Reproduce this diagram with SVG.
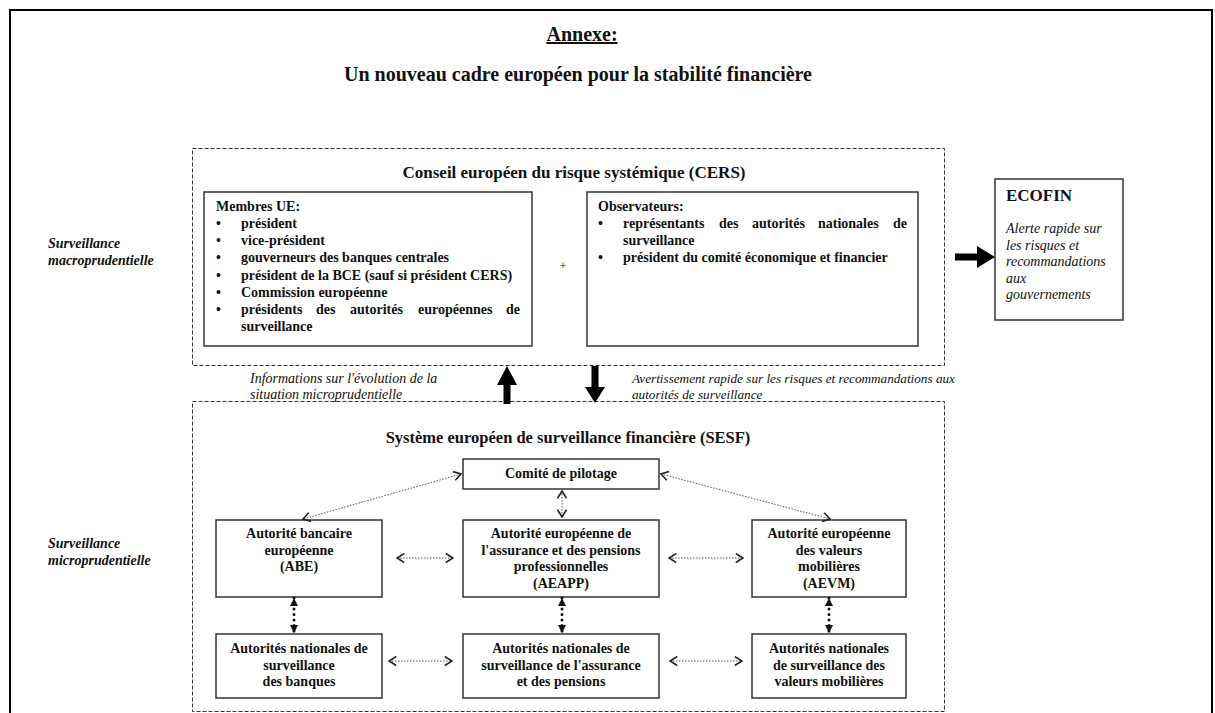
<svg xmlns="http://www.w3.org/2000/svg" width="1215" height="713" viewBox="0 0 1215 713">
<style>
text{font-family:"Liberation Serif","Times New Roman",serif;fill:#111;}
.b{font-weight:bold;font-size:14px;}
.c{text-anchor:middle;}
.it{font-style:italic;font-size:14px;}
.side{font-style:italic;font-weight:bold;font-size:14px;}
.box{fill:#fff;stroke:#333;stroke-width:1.5;}
.dash{fill:none;stroke:#333;stroke-width:1;stroke-dasharray:4,2;}
.dot{fill:none;stroke:#555;stroke-width:1;stroke-dasharray:1.5,1.5;}
.thick{fill:none;stroke:#111;stroke-width:3;stroke-dasharray:0,5.5;stroke-linecap:round;}
.blk{fill:#000;}
</style>
<defs>
<marker id="open" viewBox="0 0 10 12" refX="9" refY="6" markerWidth="9" markerHeight="11" markerUnits="userSpaceOnUse" orient="auto-start-reverse">
<path d="M1,1 L9,6 L1,11" fill="none" stroke="#222" stroke-width="1.8"/>
</marker>
<marker id="tri" viewBox="0 0 10 10" refX="10" refY="5" markerWidth="8" markerHeight="9" markerUnits="userSpaceOnUse" orient="auto-start-reverse">
<path d="M0,0 L10,5 L0,10 Z" fill="#111"/>
</marker>
</defs>
<rect width="1215" height="713" fill="#fff"/>
<g id="frame">
<path d="M10,713 L10,10 L1212,10 L1212,713" fill="none" stroke="#000" stroke-width="2"/>
</g>
<g id="title">
<text x="582" y="41" class="c" style="font-weight:bold;font-size:20px;text-decoration:underline">Annexe:</text>
<text x="578" y="81" class="c" style="font-weight:bold;font-size:20px">Un nouveau cadre européen pour la stabilité financière</text>
</g>
<g id="side-labels">
<text x="48" y="248" class="side">Surveillance</text>
<text x="48" y="265" class="side">macroprudentielle</text>
<text x="48" y="548" class="side">Surveillance</text>
<text x="48" y="565" class="side">microprudentielle</text>
</g>
<g id="cers">
<rect x="192.5" y="148.5" width="752" height="217" class="dash"/>
<text x="574" y="178" class="c" style="font-weight:bold;font-size:17px">Conseil européen du risque systémique (CERS)</text>
</g>
<g id="membres">
<rect x="204" y="192" width="328" height="154" class="box"/>
<text x="216" y="211" class="b">Membres UE:</text>
<text x="216" y="228" class="b">•</text><text x="241" y="228" class="b">président</text>
<text x="216" y="245" class="b">•</text><text x="241" y="245" class="b">vice-président</text>
<text x="216" y="262" class="b">•</text><text x="241" y="262" class="b">gouverneurs des banques centrales</text>
<text x="216" y="280" class="b">•</text><text x="241" y="280" class="b">président de la BCE (sauf si président CERS)</text>
<text x="216" y="297" class="b">•</text><text x="241" y="297" class="b">Commission européenne</text>
<text x="216" y="314" class="b">•</text><text x="241" y="314" class="b">présidents</text><text x="316" y="314" class="b">des</text><text x="350" y="314" class="b">autorités</text><text x="418" y="314" class="b">européennes</text><text x="520" y="314" class="b" style="text-anchor:end">de</text>
<text x="241" y="331" class="b">surveillance</text>
</g>
<text x="563" y="270" class="c" style="font-size:12px">+</text>
<g id="observateurs">
<rect x="587" y="192" width="331" height="154" class="box"/>
<text x="598" y="211" class="b">Observateurs:</text>
<text x="598" y="228" class="b">•</text><text x="623" y="228" class="b">représentants</text><text x="719" y="228" class="b">des</text><text x="752" y="228" class="b">autorités</text><text x="818" y="228" class="b">nationales</text><text x="907" y="228" class="b" style="text-anchor:end">de</text>
<text x="623" y="245" class="b">surveillance</text>
<text x="598" y="262" class="b">•</text><text x="623" y="262" class="b">président du comité économique et financier</text>
</g>
<g id="ecofin">
<rect x="995" y="179" width="128" height="141" class="box"/>
<text x="1006" y="201" style="font-weight:bold;font-size:17px">ECOFIN</text>
<text x="1006" y="233" class="it">Alerte rapide sur</text>
<text x="1006" y="249.5" class="it">les risques et</text>
<text x="1006" y="266" class="it">recommandations</text>
<text x="1006" y="282.5" class="it">aux</text>
<text x="1006" y="299" class="it">gouvernements</text>
</g>
<g id="flow-labels">
<text x="250" y="383" class="it">Informations sur l'évolution de la</text>
<text x="250" y="399" class="it">situation microprudentielle</text>
<text x="632" y="383" class="it" style="font-size:13.2px">Avertissement rapide sur les risques et recommandations aux</text>
<text x="632" y="399" class="it" style="font-size:13.2px">autorités de surveillance</text>
</g>
<g id="sesf">
<rect x="192.5" y="401.5" width="752" height="310" class="dash"/>
<text x="568" y="443" class="c" style="font-weight:bold;font-size:16.5px">Système européen de surveillance financière (SESF)</text>
</g>
<g id="comite">
<rect x="463" y="459" width="196" height="30" class="box"/>
<text x="561" y="478" class="b c">Comité de pilotage</text>
</g>
<g id="abe">
<rect x="216" y="520" width="166" height="77" class="box"/>
<text x="299" y="538" class="b c">Autorité bancaire</text>
<text x="299" y="555" class="b c">européenne</text>
<text x="299" y="571" class="b c">(ABE)</text>
</g>
<g id="aeapp">
<rect x="463" y="520" width="196" height="77" class="box"/>
<text x="561" y="538" class="b c">Autorité européenne de</text>
<text x="561" y="555" class="b c">l'assurance et des pensions</text>
<text x="561" y="571" class="b c">professionnelles</text>
<text x="561" y="588" class="b c">(AEAPP)</text>
</g>
<g id="aevm">
<rect x="752" y="520" width="154" height="77" class="box"/>
<text x="829" y="538" class="b c">Autorité européenne</text>
<text x="829" y="555" class="b c">des valeurs</text>
<text x="829" y="571" class="b c">mobilières</text>
<text x="829" y="588" class="b c">(AEVM)</text>
</g>
<g id="nat-banques">
<rect x="216" y="634" width="166" height="64" class="box"/>
<text x="299" y="653" class="b c">Autorités nationales de</text>
<text x="299" y="670" class="b c">surveillance</text>
<text x="299" y="686" class="b c">des banques</text>
</g>
<g id="nat-assurance">
<rect x="463" y="634" width="196" height="64" class="box"/>
<text x="561" y="653" class="b c">Autorités nationales de</text>
<text x="561" y="670" class="b c">surveillance de l'assurance</text>
<text x="561" y="686" class="b c">et des pensions</text>
</g>
<g id="nat-valeurs">
<rect x="752" y="634" width="154" height="64" class="box"/>
<text x="829" y="653" class="b c">Autorités nationales</text>
<text x="829" y="670" class="b c">de surveillance des</text>
<text x="829" y="686" class="b c">valeurs mobilières</text>
</g>
<g id="connectors">
<polygon class="blk" points="955,253.5 977,253.5 977,246 995,257 977,268 977,260.5 955,260.5"/>
<polygon class="blk" points="507,366 517,385 510.5,385 510.5,404 503.5,404 503.5,385 497,385"/>
<polygon class="blk" points="591.5,366 598.5,366 598.5,387 605,387 595,403 585,387 591.5,387"/>
<line x1="461" y1="474" x2="303" y2="519" class="dot" marker-start="url(#open)" marker-end="url(#open)"/>
<line x1="661" y1="474" x2="830" y2="519" class="dot" marker-start="url(#open)" marker-end="url(#open)"/>
<line x1="562" y1="491" x2="562" y2="517" class="dot" marker-start="url(#open)" marker-end="url(#open)"/>
<line x1="397" y1="558" x2="453" y2="558" class="dot" marker-start="url(#open)" marker-end="url(#open)"/>
<line x1="669" y1="558" x2="743" y2="558" class="dot" marker-start="url(#open)" marker-end="url(#open)"/>
<line x1="389" y1="661" x2="452" y2="661" class="dot" marker-start="url(#open)" marker-end="url(#open)"/>
<line x1="670" y1="661" x2="742" y2="661" class="dot" marker-start="url(#open)" marker-end="url(#open)"/>
<line x1="294" y1="598" x2="294" y2="633" class="thick" marker-start="url(#tri)" marker-end="url(#tri)"/>
<line x1="562" y1="598" x2="562" y2="633" class="thick" marker-start="url(#tri)" marker-end="url(#tri)"/>
<line x1="829" y1="598" x2="829" y2="633" class="thick" marker-start="url(#tri)" marker-end="url(#tri)"/>
</g>
</svg>
